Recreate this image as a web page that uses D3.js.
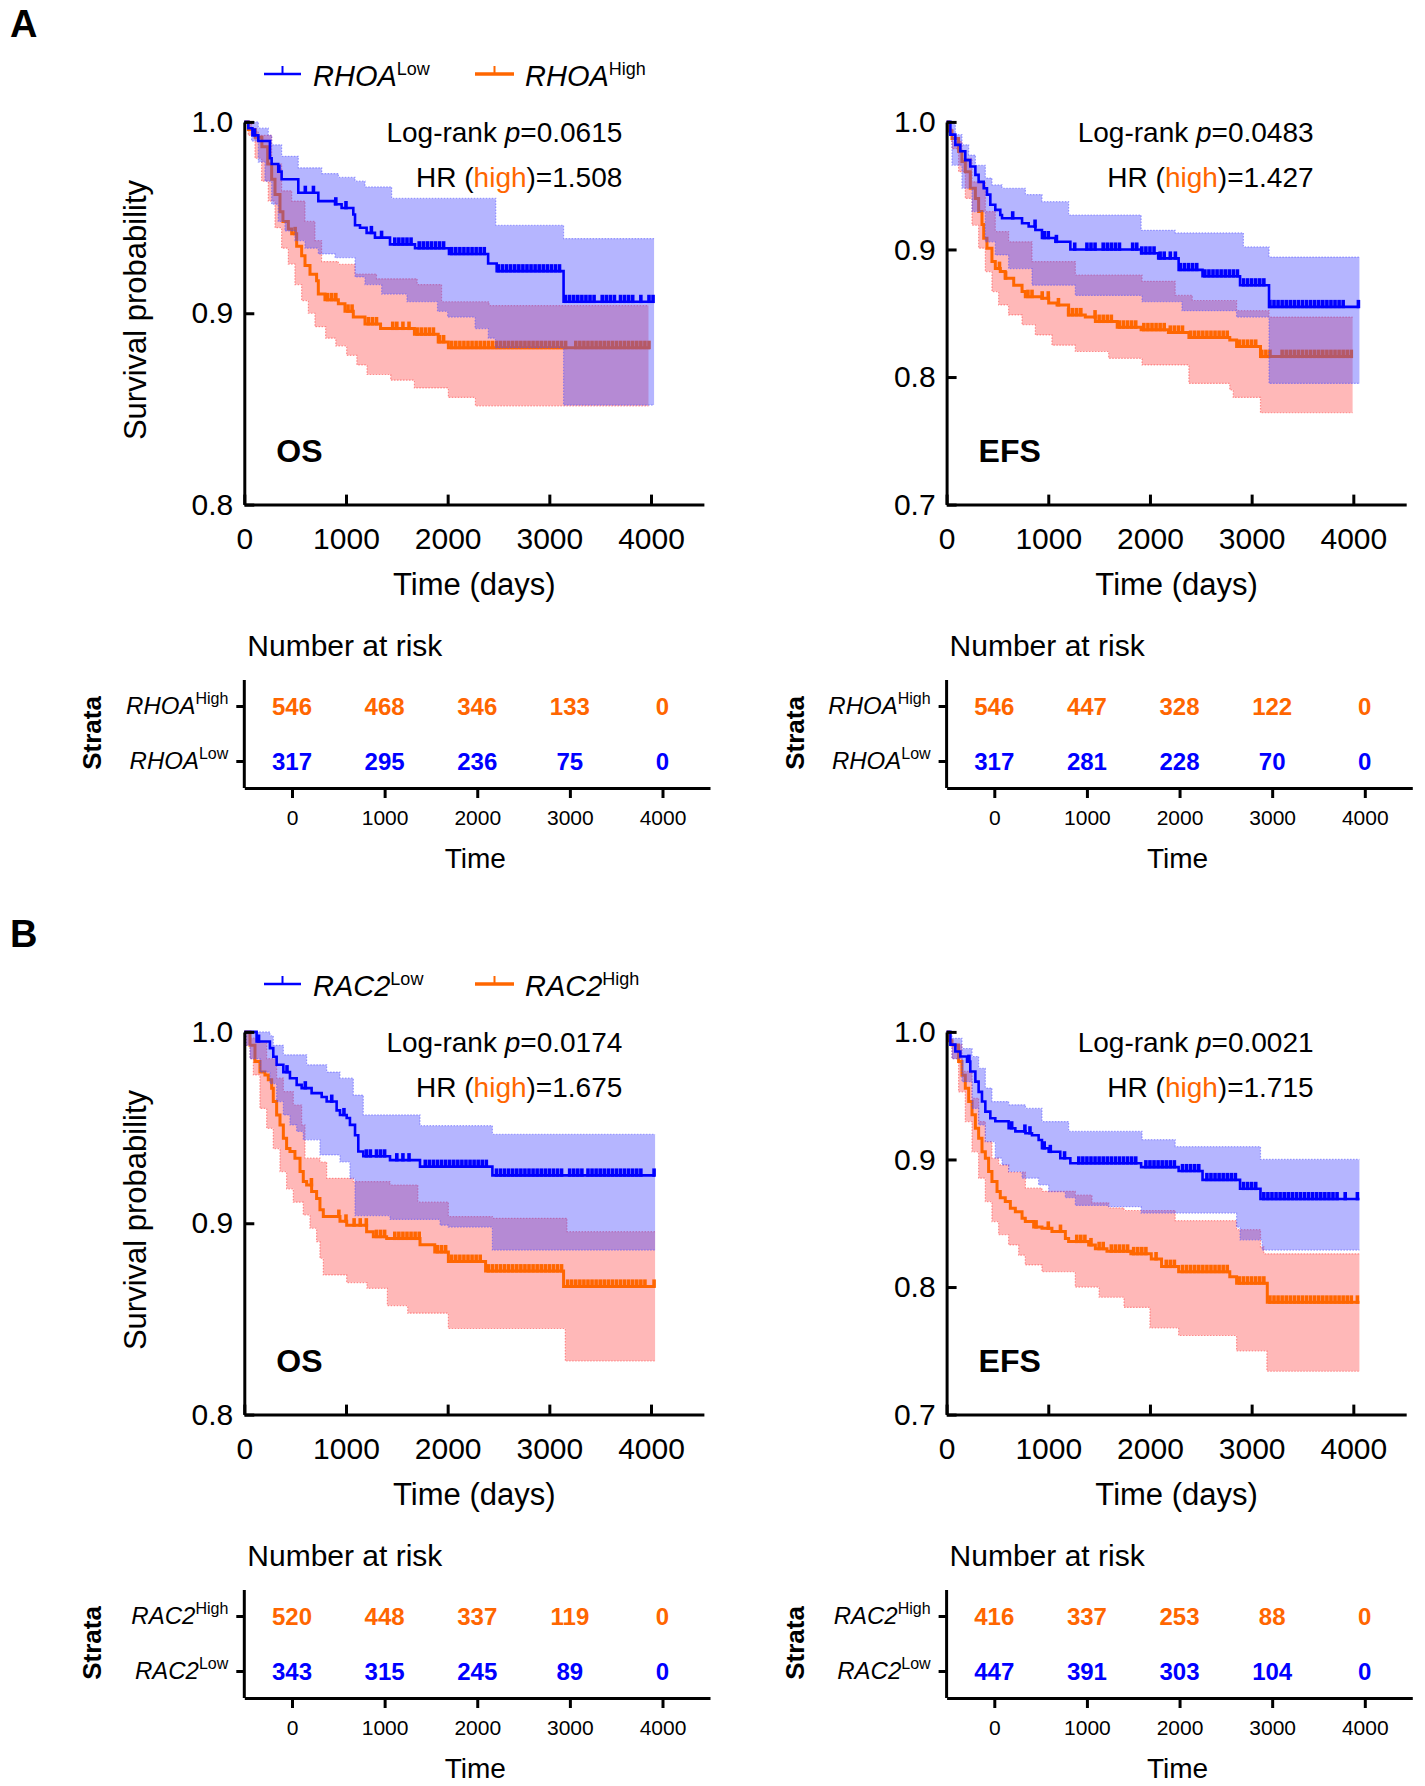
<!DOCTYPE html>
<html>
<head>
<meta charset="utf-8">
<script src="https://cdn.jsdelivr.net/npm/d3@7"></script>
<style>
  body { margin: 0; background: #fff; }
  text { font-family: "Liberation Sans", Arial, sans-serif; }
</style>
</head>
<body>
<div id="vis"></div>
<script>
// ---- data: [days, survival] step points ----
// panel A, OS
let osA_lowLine = [[0,1],[39,0.9967],[80,0.993],[138,0.990],[252,0.981],[269,0.978],[334,0.974],[367,0.970],[531,0.963],[728,0.9586],[892,0.957],[957,0.955],[1072,0.9516],[1089,0.946],[1138,0.9447],[1203,0.942],[1285,0.9395],[1433,0.936],[1679,0.934],[2013,0.931],[2398,0.926],[2482,0.922],[3140,0.906],[4030,0.906]];
let osA_lowUpper = [[0,1],[138,0.9967],[236,0.993],[269,0.988],[367,0.982],[531,0.976],[761,0.973],[925,0.971],[1089,0.969],[1187,0.966],[1449,0.960],[2473,0.946],[3140,0.939],[4030,0.939]];
let osA_lowLower = [[0,1],[39,0.9967],[72,0.990],[138,0.979],[203,0.969],[269,0.957],[334,0.948],[400,0.943],[498,0.938],[597,0.934],[728,0.931],[892,0.929],[1089,0.919],[1187,0.915],[1351,0.910],[1600,0.906],[1900,0.901],[2000,0.898],[2270,0.892],[2400,0.887],[2470,0.882],[3140,0.852],[4030,0.852]];
let osA_highLine = [[0,1],[40,0.996],[107,0.992],[173,0.987],[230,0.978],[269,0.970],[302,0.962],[351,0.953],[380,0.948],[433,0.944],[466,0.9415],[515,0.935],[564,0.930],[597,0.925],[646,0.9204],[711,0.917],[728,0.910],[793,0.907],[925,0.905],[990,0.901],[1072,0.898],[1187,0.8944],[1340,0.892],[1673,0.889],[1907,0.885],[2007,0.882],[3990,0.882]];
let osA_highUpper = [[0,1],[72,0.995],[138,0.993],[269,0.978],[367,0.964],[466,0.9586],[597,0.948],[695,0.938],[760,0.927],[925,0.9256],[1089,0.9205],[1300,0.918],[1700,0.915],[1940,0.906],[2407,0.904],[3975,0.904]];
let osA_highLower = [[0,1],[39,0.993],[105,0.981],[170,0.969],[236,0.9586],[302,0.9447],[367,0.934],[433,0.9257],[498,0.915],[564,0.9066],[630,0.900],[695,0.893],[800,0.887],[900,0.883],[1007,0.878],[1107,0.873],[1207,0.868],[1440,0.865],[1673,0.861],[2007,0.856],[2273,0.8516],[3975,0.8516]];
let osA_lowCens = [100,340,600,680,900,1000,1250,1350,1480,1520,1560,1600,1640,1720,1760,1800,1840,1880,1920,1960,2040,2080,2120,2160,2200,2240,2280,2320,2360,2500,2540,2580,2620,2660,2700,2740,2780,2820,2860,2900,2940,2980,3020,3060,3100,3160,3200,3240,3280,3320,3360,3400,3440,3520,3560,3600,3640,3700,3740,3780,3820,3900,3980,4020];
let osA_highCens = [500,820,860,900,1020,1060,1220,1260,1300,1460,1500,1560,1620,1700,1740,1780,1820,1860,1920,1960,2040,2080,2120,2160,2200,2240,2280,2320,2360,2400,2440,2480,2520,2560,2600,2640,2680,2720,2760,2800,2840,2880,2920,2960,3000,3040,3080,3120,3160,3260,3300,3340,3380,3420,3460,3500,3540,3580,3620,3660,3700,3740,3780,3820,3860,3900,3940,3980];

// panel A, EFS
let efsA_lowLine = [[0,1],[37,0.990],[86,0.982],[135,0.977],[184,0.970],[233,0.965],[283,0.9585],[315,0.953],[365,0.948],[397,0.943],[430,0.935],[479,0.931],[528,0.927],[545,0.9245],[742,0.9206],[807,0.918],[873,0.9153],[938,0.909],[1070,0.906],[1217,0.900],[1913,0.897],[2081,0.893],[2282,0.884],[2517,0.879],[2886,0.872],[3171,0.855],[4060,0.855]];
let efsA_lowUpper = [[0,1],[86,0.990],[151,0.982],[217,0.974],[283,0.966],[381,0.956],[446,0.9506],[545,0.948],[775,0.943],[938,0.9375],[1200,0.927],[1913,0.915],[2248,0.913],[2919,0.902],[3171,0.894],[4060,0.894]];
let efsA_lowLower = [[0,1],[20,0.990],[53,0.966],[151,0.948],[250,0.9297],[381,0.906],[479,0.8957],[610,0.885],[840,0.872],[1266,0.864],[1922,0.859],[2315,0.852],[2852,0.847],[3171,0.795],[4060,0.795]];
let efsA_highLine = [[0,1],[20,0.993],[53,0.987],[118,0.9767],[151,0.969],[184,0.961],[233,0.948],[283,0.940],[315,0.9297],[348,0.9195],[365,0.9088],[397,0.901],[446,0.8905],[479,0.885],[528,0.8827],[577,0.8775],[660,0.872],[742,0.867],[774,0.863],[938,0.8618],[1004,0.858],[1086,0.8565],[1200,0.8487],[1364,0.847],[1463,0.8435],[1678,0.839],[1913,0.837],[2181,0.835],[2383,0.831],[2785,0.829],[2852,0.824],[3087,0.816],[3993,0.816]];
let efsA_highUpper = [[0,1],[20,0.995],[53,0.9846],[151,0.9715],[250,0.953],[381,0.9297],[479,0.914],[610,0.906],[840,0.8905],[1266,0.880],[1922,0.875],[2248,0.864],[2416,0.860],[2852,0.852],[3171,0.847],[3993,0.847]];
let efsA_highLower = [[0,1],[20,0.993],[53,0.979],[118,0.961],[184,0.940],[250,0.919],[315,0.901],[381,0.8827],[446,0.867],[512,0.8565],[610,0.8487],[742,0.841],[873,0.833],[1036,0.825],[1266,0.820],[1594,0.8147],[1922,0.8095],[2383,0.795],[2785,0.790],[2819,0.784],[3087,0.772],[3993,0.772]];
let efsA_lowCens = [650,870,960,1000,1080,1260,1380,1420,1460,1540,1580,1620,1660,1700,1830,1870,1920,1960,2000,2040,2100,2140,2200,2250,2300,2340,2380,2420,2460,2540,2580,2620,2660,2700,2740,2780,2820,2860,2920,2960,3000,3040,3080,3120,3180,3220,3260,3300,3340,3380,3420,3460,3500,3540,3580,3620,3660,3700,3740,3780,3820,3860,3900,4050];
let efsA_highCens = [520,580,800,840,940,1000,1100,1200,1240,1280,1320,1460,1500,1540,1580,1620,1700,1740,1780,1820,1860,1940,1980,2020,2060,2100,2140,2200,2240,2280,2320,2400,2440,2480,2520,2560,2600,2640,2680,2720,2760,2880,2920,2960,3000,3040,3100,3140,3180,3300,3340,3380,3420,3460,3500,3540,3580,3620,3660,3700,3740,3780,3820,3860,3900,3940,3980];

// panel B, OS
let osB_lowLine = [[0,1],[121,0.995],[252,0.9915],[285,0.987],[318,0.9828],[384,0.979],[449,0.9758],[515,0.9723],[564,0.9706],[662,0.968],[761,0.966],[810,0.9636],[908,0.959],[941,0.9566],[1007,0.955],[1039,0.9514],[1089,0.946],[1121,0.9375],[1170,0.935],[1433,0.933],[1728,0.9296],[2440,0.925],[4040,0.925]];
let osB_lowUpper = [[0,1],[252,0.998],[285,0.993],[384,0.988],[613,0.9828],[810,0.979],[941,0.9758],[1072,0.967],[1170,0.9566],[1728,0.951],[2440,0.9465],[4040,0.9465]];
let osB_lowLower = [[0,1],[20,0.993],[56,0.986],[154,0.979],[252,0.973],[318,0.9636],[384,0.9566],[449,0.9514],[515,0.948],[580,0.9436],[744,0.9357],[941,0.932],[1039,0.9235],[1089,0.9040],[1433,0.902],[1925,0.899],[2007,0.898],[2440,0.886],[4040,0.886]];
let osB_highLine = [[0,1],[56,0.993],[105,0.9845],[154,0.979],[203,0.9775],[236,0.975],[269,0.9706],[285,0.9636],[318,0.9566],[351,0.9514],[384,0.9444],[416,0.939],[449,0.9375],[498,0.934],[548,0.927],[580,0.9218],[613,0.920],[662,0.9166],[711,0.913],[744,0.907],[777,0.9035],[941,0.901],[1007,0.899],[1203,0.8956],[1269,0.893],[1400,0.892],[1728,0.8887],[1873,0.885],[2007,0.880],[2373,0.875],[3140,0.867],[4040,0.867]];
let osB_highUpper = [[0,1],[56,0.9967],[121,0.995],[220,0.986],[318,0.9758],[384,0.9688],[482,0.9618],[564,0.9514],[597,0.934],[744,0.932],[810,0.9235],[1072,0.9218],[1433,0.920],[1707,0.911],[2007,0.9035],[2440,0.9026],[3173,0.8956],[4040,0.8956]];
let osB_highLower = [[0,1],[20,0.993],[56,0.986],[89,0.9775],[154,0.960],[220,0.9496],[285,0.939],[351,0.927],[416,0.918],[482,0.911],[580,0.9044],[646,0.8974],[711,0.8904],[744,0.8817],[777,0.873],[1007,0.869],[1207,0.866],[1407,0.857],[1607,0.853],[2007,0.845],[3157,0.828],[4040,0.828]];
let osB_lowCens = [140,420,600,860,980,1200,1240,1300,1340,1380,1500,1560,1620,1780,1820,1860,1900,1940,1980,2020,2060,2100,2140,2180,2220,2260,2300,2340,2380,2480,2520,2560,2600,2640,2680,2720,2760,2800,2840,2880,2920,2960,3000,3040,3080,3120,3200,3240,3280,3320,3380,3420,3460,3500,3540,3580,3620,3660,3700,3740,3780,3820,3860,3900,4030];
let osB_highCens = [660,930,1000,1080,1140,1200,1300,1340,1380,1480,1520,1560,1600,1640,1680,1720,1900,1940,1980,2040,2080,2120,2160,2200,2240,2280,2320,2400,2440,2480,2520,2560,2600,2640,2680,2720,2760,2800,2840,2880,2920,2960,3000,3040,3080,3120,3180,3220,3260,3300,3340,3380,3420,3460,3500,3540,3580,3620,3660,3700,3740,3780,3820,3860,3900,3940,4030];

// panel B, EFS
let efsB_lowLine = [[0,1],[37,0.990],[86,0.9846],[135,0.9807],[201,0.9767],[233,0.969],[283,0.961],[315,0.953],[348,0.9454],[381,0.9375],[430,0.9323],[479,0.930],[610,0.9245],[676,0.922],[775,0.9206],[840,0.919],[905,0.9153],[938,0.9088],[1004,0.906],[1118,0.901],[1217,0.897],[1913,0.894],[2282,0.891],[2517,0.884],[2886,0.877],[3087,0.869],[4060,0.869]];
let efsB_lowUpper = [[0,1],[53,0.995],[151,0.987],[250,0.9807],[315,0.9715],[381,0.956],[446,0.9454],[610,0.9428],[775,0.940],[938,0.9297],[1200,0.922],[1922,0.9155],[2248,0.910],[3087,0.900],[4060,0.900]];
let efsB_lowLower = [[0,1],[20,0.993],[53,0.979],[151,0.961],[250,0.940],[315,0.927],[381,0.914],[479,0.901],[545,0.8957],[610,0.8905],[742,0.8853],[905,0.880],[1004,0.8748],[1168,0.870],[1266,0.864],[1594,0.863],[1913,0.858],[2852,0.847],[2886,0.837],[3104,0.829],[4060,0.829]];
let efsB_highLine = [[0,1],[20,0.993],[53,0.9898],[118,0.9767],[151,0.966],[184,0.9558],[217,0.9454],[250,0.935],[283,0.9245],[315,0.9166],[348,0.906],[381,0.901],[413,0.8905],[446,0.8827],[496,0.8748],[528,0.870],[577,0.867],[627,0.8618],[676,0.859],[742,0.854],[774,0.8513],[856,0.847],[938,0.846],[1036,0.8435],[1168,0.838],[1200,0.8356],[1397,0.833],[1463,0.830],[1577,0.828],[1812,0.826],[2013,0.822],[2114,0.816],[2282,0.812],[2785,0.808],[2852,0.803],[3154,0.788],[4060,0.788]];
let efsB_highUpper = [[0,1],[20,0.995],[53,0.990],[151,0.969],[250,0.948],[315,0.9297],[381,0.914],[446,0.901],[512,0.8957],[610,0.890],[775,0.8775],[938,0.875],[1266,0.872],[1430,0.866],[1594,0.862],[1745,0.860],[2248,0.852],[2852,0.845],[3087,0.8315],[3120,0.826],[4060,0.826]];
let efsB_highLower = [[0,1],[20,0.993],[53,0.979],[118,0.953],[184,0.9297],[250,0.906],[315,0.8853],[381,0.867],[446,0.8513],[512,0.841],[610,0.833],[709,0.825],[774,0.8173],[938,0.812],[1266,0.800],[1500,0.792],[1745,0.784],[2000,0.768],[2282,0.762],[2852,0.750],[3150,0.734],[4060,0.734]];
let efsB_lowCens = [220,640,770,820,960,1020,1160,1300,1340,1380,1420,1460,1500,1540,1580,1620,1660,1700,1740,1780,1820,1860,1960,2000,2040,2080,2120,2160,2200,2240,2320,2360,2400,2440,2480,2560,2600,2640,2680,2720,2760,2800,2840,2920,2960,3000,3040,3120,3160,3200,3240,3280,3320,3360,3400,3440,3480,3520,3560,3600,3640,3680,3720,3760,3800,3840,3920,4040];
let efsB_highCens = [880,1000,1120,1280,1320,1360,1420,1500,1540,1620,1660,1700,1740,1780,1840,1880,1920,1960,2060,2160,2200,2240,2320,2360,2400,2440,2480,2520,2560,2600,2640,2680,2720,2760,2880,2920,2960,3000,3040,3080,3120,3180,3220,3260,3300,3340,3380,3420,3460,3500,3540,3580,3620,3660,3700,3740,3780,3820,3860,3900,3940,3980,4040];

// number at risk
let riskTimes = [0, 1000, 2000, 3000, 4000];
let riskA_os_high = [546, 468, 346, 133, 0];
let riskA_os_low = [317, 295, 236, 75, 0];
let riskA_efs_high = [546, 447, 328, 122, 0];
let riskA_efs_low = [317, 281, 228, 70, 0];
let riskB_os_high = [520, 448, 337, 119, 0];
let riskB_os_low = [343, 315, 245, 89, 0];
let riskB_efs_high = [416, 337, 253, 88, 0];
let riskB_efs_low = [447, 391, 303, 104, 0];

let xTicks = [0, 1000, 2000, 3000, 4000];
let osTicks = [1.0, 0.9, 0.8];
let efsTicks = [1.0, 0.9, 0.8, 0.7];

let blue = "#0000ff", orange = "#ff6600";

let svg = d3.select("#vis").append("svg")
    .attr("width", 1425)
    .attr("height", 1786);
svg.append("rect").attr("width", 1425).attr("height", 1786).attr("fill", "#fff");

function stepAt(arr, t) {
  let v = arr[0][1];
  for (let p of arr) { if (p[0] <= t) v = p[1]; }
  return v;
}

function drawBand(g, x, y, upper, lower, fill, edge) {
  let times = Array.from(new Set(upper.map(d => d[0]).concat(lower.map(d => d[0])))).sort((a, b) => a - b);
  let rows = times.map(t => [t, stepAt(lower, t), stepAt(upper, t)]);
  g.append("path")
    .datum(rows)
    .attr("fill", fill)
    .attr("d", d3.area().curve(d3.curveStepAfter)
      .x(d => x(d[0])).y0(d => y(d[1])).y1(d => y(d[2])));
  let edgeLine = d3.line().curve(d3.curveStepAfter).x(d => x(d[0])).y(d => y(d[1]));
  for (let e of [upper, lower]) {
    g.append("path").datum(e)
      .attr("fill", "none")
      .attr("stroke", edge)
      .attr("stroke-width", 1.2)
      .attr("stroke-dasharray", "1.5,1.5")
      .attr("d", edgeLine);
  }
}

function drawCurve(g, x, y, line, cens, color, w) {
  g.append("path").datum(line)
    .attr("fill", "none")
    .attr("stroke", color)
    .attr("stroke-width", w)
    .attr("d", d3.line().curve(d3.curveStepAfter).x(d => x(d[0])).y(d => y(d[1])));
  // censor marks, pointing up from the curve
  g.append("g").selectAll("line")
    .data(cens)
    .join("line")
    .attr("x1", d => x(d)).attr("x2", d => x(d))
    .attr("y1", d => y(stepAt(line, d)) + w / 2)
    .attr("y2", d => y(stepAt(line, d)) - 7)
    .attr("stroke", color)
    .attr("stroke-width", 3.6);
}

function styleAxis(g) {
  g.select(".domain").attr("stroke-width", 3);
  g.selectAll(".tick line").attr("stroke-width", 3);
}

function drawKM(cfg) {
  let g = svg.append("g").attr("transform", "translate(0," + cfg.dy + ")");
  let x = d3.scaleLinear().domain([0, 4520]).range([cfg.x0, cfg.x0 + 4520 * 0.10168]);
  let y = d3.scaleLinear().domain([cfg.yMin, 1]).range([504.6, 121.9]);

  drawBand(g, x, y, cfg.highUpper, cfg.highLower, "rgba(255,0,0,0.28)", "rgba(255,60,60,0.5)");
  drawCurve(g, x, y, cfg.highLine, cfg.highCens, orange, 3);
  drawBand(g, x, y, cfg.lowUpper, cfg.lowLower, "rgba(70,70,255,0.4)", "rgba(80,80,255,0.5)");
  drawCurve(g, x, y, cfg.lowLine, cfg.lowCens, blue, 2.6);

  let yAxis = g.append("g")
      .attr("transform", "translate(" + cfg.x0 + ",0)")
      .call(d3.axisLeft(y).tickValues(cfg.yTicks).tickFormat(d3.format(".1f"))
        .tickSize(-10).tickSizeOuter(0).tickPadding(11))
      .call(styleAxis);
  yAxis.selectAll("text").attr("font-size", 30).attr("fill", "#000");

  let xAxis = g.append("g")
      .attr("transform", "translate(0,504.6)")
      .call(d3.axisBottom(x).tickValues(xTicks).tickFormat(d3.format("d"))
        .tickSize(-10).tickSizeOuter(0).tickPadding(23))
      .call(styleAxis);
  xAxis.selectAll("text").attr("font-size", 30).attr("fill", "#000");

  g.append("text")
    .attr("x", cfg.x0 + 230).attr("y", 595)
    .attr("text-anchor", "middle").attr("font-size", 31)
    .text("Time (days)");

  if (cfg.yLabel) {
    g.append("text")
      .attr("transform", "translate(146,310) rotate(-90)")
      .attr("text-anchor", "middle").attr("font-size", 31)
      .text("Survival probability");
  }

  let st = g.append("text")
    .attr("x", cfg.x0 + cfg.statX).attr("y", 142)
    .attr("text-anchor", "end").attr("font-size", 28);
  st.append("tspan").text("Log-rank ");
  st.append("tspan").attr("font-style", "italic").text("p");
  st.append("tspan").text("=" + cfg.p);

  let hr = g.append("text")
    .attr("x", cfg.x0 + cfg.statX).attr("y", 187)
    .attr("text-anchor", "end").attr("font-size", 28);
  hr.append("tspan").text("HR (");
  hr.append("tspan").attr("fill", orange).text("high");
  hr.append("tspan").text(")=" + cfg.hr);

  g.append("text")
    .attr("x", cfg.x0 + 32).attr("y", 462)
    .attr("font-size", 32).attr("font-weight", "bold")
    .text(cfg.name);
}

function geneLabel(sel, gene, sup, size, supSize, dy) {
  sel.append("tspan").attr("font-style", "italic").attr("font-size", size).text(gene);
  sel.append("tspan").attr("font-size", supSize).attr("dy", dy).text(sup);
}

function drawRisk(cfg) {
  let g = svg.append("g").attr("transform", "translate(0," + cfg.dy + ")");
  let rx = d3.scaleLinear().domain([0, 4000]).range([cfg.x0 + 47.7, cfg.x0 + 418.2]);
  let rxAxis = d3.scaleLinear()
      .domain([rx.invert(cfg.x0), rx.invert(cfg.x0 + 465.7)])
      .range([cfg.x0, cfg.x0 + 465.7]);
  let ry = d3.scalePoint().domain(["High", "Low"]).range([706, 761]);

  g.append("text")
    .attr("x", cfg.x0 + 3).attr("y", 656)
    .attr("font-size", 30)
    .text("Number at risk");

  g.append("line")
    .attr("x1", cfg.x0).attr("x2", cfg.x0)
    .attr("y1", 680).attr("y2", 788)
    .attr("stroke", "#000").attr("stroke-width", 3);
  let yA = g.append("g")
      .attr("transform", "translate(" + cfg.x0 + ",0)")
      .call(d3.axisLeft(ry).tickSize(8).tickFormat(""))
      .call(styleAxis);
  yA.select(".domain").remove();

  let xA = g.append("g")
      .attr("transform", "translate(0,788)")
      .call(d3.axisBottom(rxAxis).tickValues(riskTimes).tickFormat(d3.format("d"))
        .tickSize(10).tickSizeOuter(0).tickPadding(12))
      .call(styleAxis);
  xA.selectAll("text").attr("font-size", 21).attr("fill", "#000");

  for (let key of ["High", "Low"]) {
    let lab = g.append("text")
      .attr("x", cfg.x0 - 16).attr("y", ry(key) + 8)
      .attr("text-anchor", "end");
    geneLabel(lab, cfg.gene, key, 24, 16, -10);
  }

  g.append("g").selectAll("text")
    .data(cfg.high)
    .join("text")
    .attr("x", (d, i) => rx(riskTimes[i]))
    .attr("y", ry("High") + 9)
    .attr("text-anchor", "middle")
    .attr("font-size", 24).attr("font-weight", "bold")
    .attr("fill", orange)
    .text(d => d);

  g.append("g").selectAll("text")
    .data(cfg.low)
    .join("text")
    .attr("x", (d, i) => rx(riskTimes[i]))
    .attr("y", ry("Low") + 9)
    .attr("text-anchor", "middle")
    .attr("font-size", 24).attr("font-weight", "bold")
    .attr("fill", blue)
    .text(d => d);

  g.append("text")
    .attr("transform", "translate(" + (cfg.x0 - 143) + ",733) rotate(-90)")
    .attr("text-anchor", "middle")
    .attr("font-size", 26).attr("font-weight", "bold")
    .text("Strata");

  g.append("text")
    .attr("x", cfg.x0 + 231).attr("y", 868)
    .attr("text-anchor", "middle").attr("font-size", 28)
    .text("Time");
}

function drawLegend(dy, gene, letter) {
  let g = svg.append("g").attr("transform", "translate(0," + dy + ")");
  g.append("text")
    .attr("x", 10).attr("y", 37)
    .attr("font-size", 38).attr("font-weight", "bold")
    .text(letter);

  let items = [
    {x1: 264, x2: 301, tx: 313, color: blue, w: 2.5, sup: "Low"},
    {x1: 475, x2: 514, tx: 525, color: orange, w: 3.5, sup: "High"}
  ];
  for (let it of items) {
    g.append("line")
      .attr("x1", it.x1).attr("x2", it.x2).attr("y1", 74).attr("y2", 74)
      .attr("stroke", it.color).attr("stroke-width", it.w);
    g.append("line")
      .attr("x1", (it.x1 + it.x2) / 2).attr("x2", (it.x1 + it.x2) / 2)
      .attr("y1", 75).attr("y2", 66)
      .attr("stroke", it.color).attr("stroke-width", 2);
    let t = g.append("text").attr("x", it.tx).attr("y", 86);
    geneLabel(t, gene, it.sup, 29, 18, -11);
  }
}

// panel A
drawLegend(0, "RHOA", "A");
drawKM({dy: 0, x0: 244.3, yMin: 0.8, yTicks: osTicks, yLabel: true, name: "OS",
  p: "0.0615", hr: "1.508", statX: 378,
  lowLine: osA_lowLine, lowUpper: osA_lowUpper, lowLower: osA_lowLower, lowCens: osA_lowCens,
  highLine: osA_highLine, highUpper: osA_highUpper, highLower: osA_highLower, highCens: osA_highCens});
drawKM({dy: 0, x0: 946.6, yMin: 0.7, yTicks: efsTicks, yLabel: false, name: "EFS",
  p: "0.0483", hr: "1.427", statX: 367,
  lowLine: efsA_lowLine, lowUpper: efsA_lowUpper, lowLower: efsA_lowLower, lowCens: efsA_lowCens,
  highLine: efsA_highLine, highUpper: efsA_highUpper, highLower: efsA_highLower, highCens: efsA_highCens});
drawRisk({dy: 0, x0: 244.3, gene: "RHOA", high: riskA_os_high, low: riskA_os_low});
drawRisk({dy: 0, x0: 946.6, gene: "RHOA", high: riskA_efs_high, low: riskA_efs_low});

// panel B
drawLegend(910, "RAC2", "B");
drawKM({dy: 910, x0: 244.3, yMin: 0.8, yTicks: osTicks, yLabel: true, name: "OS",
  p: "0.0174", hr: "1.675", statX: 378,
  lowLine: osB_lowLine, lowUpper: osB_lowUpper, lowLower: osB_lowLower, lowCens: osB_lowCens,
  highLine: osB_highLine, highUpper: osB_highUpper, highLower: osB_highLower, highCens: osB_highCens});
drawKM({dy: 910, x0: 946.6, yMin: 0.7, yTicks: efsTicks, yLabel: false, name: "EFS",
  p: "0.0021", hr: "1.715", statX: 367,
  lowLine: efsB_lowLine, lowUpper: efsB_lowUpper, lowLower: efsB_lowLower, lowCens: efsB_lowCens,
  highLine: efsB_highLine, highUpper: efsB_highUpper, highLower: efsB_highLower, highCens: efsB_highCens});
drawRisk({dy: 910, x0: 244.3, gene: "RAC2", high: riskB_os_high, low: riskB_os_low});
drawRisk({dy: 910, x0: 946.6, gene: "RAC2", high: riskB_efs_high, low: riskB_efs_low});
</script>
</body>
</html>
